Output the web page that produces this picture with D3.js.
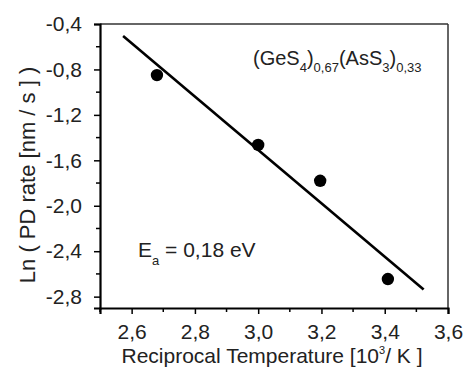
<!DOCTYPE html>
<html>
<head>
<meta charset="utf-8">
<script src="https://cdn.jsdelivr.net/npm/d3@7"></script>
<style>
  body { margin: 0; background: #fff; }
  text { font-family: "Liberation Sans", Arial, sans-serif; fill: #222; }
</style>
</head>
<body>
<svg id="chart"></svg>
<script>
// measured points: reciprocal temperature vs ln(rate)
const recipTemp = [2.68, 3.00, 3.196, 3.41];
const lnRate = [-0.85, -1.465, -1.78, -2.645];
// fitted line end points
const fitX = [2.573, 3.523];
const fitY = [-0.505, -2.737];
const xTicks = [2.6, 2.8, 3.0, 3.2, 3.4, 3.6];
const yTicks = [-0.4, -0.8, -1.2, -1.6, -2.0, -2.4, -2.8];
const xMinor = [2.5, 2.7, 2.9, 3.1, 3.3, 3.5];
const yMinor = [-0.6, -1.0, -1.4, -1.8, -2.2, -2.6];

const W = 464, H = 373;
const margin = {top: 24, right: 16, bottom: 65, left: 100};
const width = W - margin.left - margin.right;
const height = H - margin.top - margin.bottom;

const svg = d3.select('#chart').attr('width', W).attr('height', H);
const g = svg.append('g').attr('transform', `translate(${margin.left},${margin.top})`);

const x = d3.scaleLinear().domain([2.5, 3.6]).range([0, width]);
const y = d3.scaleLinear().domain([-2.9, -0.4]).range([height, 0]);

const fmt = d => d3.format('.1f')(d).replace('.', ',').replace('−', '-');

// frame top/right
g.append('line').attr('x1', 0).attr('x2', width).attr('y1', 0).attr('y2', 0)
    .attr('stroke', '#333').attr('stroke-width', 1.5);
g.append('line').attr('x1', width).attr('x2', width).attr('y1', 0).attr('y2', height)
    .attr('stroke', '#333').attr('stroke-width', 1.5);

// x axis
const xAxis = g.append('g')
    .attr('transform', 'translate(0,' + height + ')')
    .call(d3.axisBottom(x).tickValues(xTicks).tickFormat(fmt).tickSize(6).tickPadding(10));
xAxis.append('g').selectAll('line').data(xMinor).join('line')
    .attr('x1', d => x(d)).attr('x2', d => x(d)).attr('y1', 0).attr('y2', 4)
    .attr('stroke', '#000').attr('stroke-width', 1.5);

// y axis
const yAxis = g.append('g')
    .call(d3.axisLeft(y).tickValues(yTicks).tickFormat(fmt).tickSize(6).tickPadding(12));
yAxis.append('g').selectAll('line').data(yMinor).join('line')
    .attr('x1', 0).attr('x2', -4).attr('y1', d => y(d)).attr('y2', d => y(d))
    .attr('stroke', '#000').attr('stroke-width', 1.5);

[xAxis, yAxis].forEach(a => {
    a.select('.domain').attr('stroke', '#000').attr('stroke-width', 2.2);
    a.selectAll('.tick line').attr('stroke', '#000').attr('stroke-width', 1.5);
    a.selectAll('text').style('font-size', '21px').attr('fill', '#222');
});

// fit line
g.append('path')
    .datum(fitX.map((d, i) => [d, fitY[i]]))
    .attr('fill', 'none')
    .attr('stroke', '#000')
    .attr('stroke-width', 2.6)
    .attr('d', d3.line().x(d => x(d[0])).y(d => y(d[1])));

// points
g.selectAll('circle').data(recipTemp).join('circle')
    .attr('cx', d => x(d))
    .attr('cy', (d, i) => y(lnRate[i]))
    .attr('r', 6.2)
    .attr('fill', '#000');

// axis titles
svg.append('text')
    .attr('x', 272).attr('y', 363)
    .attr('text-anchor', 'middle')
    .style('font-size', '21px')
    .html('Reciprocal Temperature [10<tspan dy="-9" font-size="11px">3</tspan><tspan dy="9">/ K ]</tspan>');

svg.append('text')
    .attr('transform', 'translate(35,175) rotate(-90)')
    .attr('text-anchor', 'middle')
    .style('font-size', '22px')
    .text('Ln ( PD rate [nm / s ] )');

// annotations
svg.append('text')
    .attr('x', 253).attr('y', 65)
    .style('font-size', '20px')
    .html('(GeS<tspan dy="7" font-size="13px">4</tspan><tspan dy="-7">)</tspan><tspan dy="7" font-size="13px">0,67</tspan><tspan dy="-7">(AsS</tspan><tspan dy="7" font-size="13px">3</tspan><tspan dy="-7">)</tspan><tspan dy="7" font-size="13px">0,33</tspan>');

svg.append('text')
    .attr('x', 138).attr('y', 257)
    .style('font-size', '21px')
    .html('E<tspan dy="8" font-size="13px">a</tspan><tspan dy="-8"> = 0,18 eV</tspan>');
</script>
</body>
</html>
